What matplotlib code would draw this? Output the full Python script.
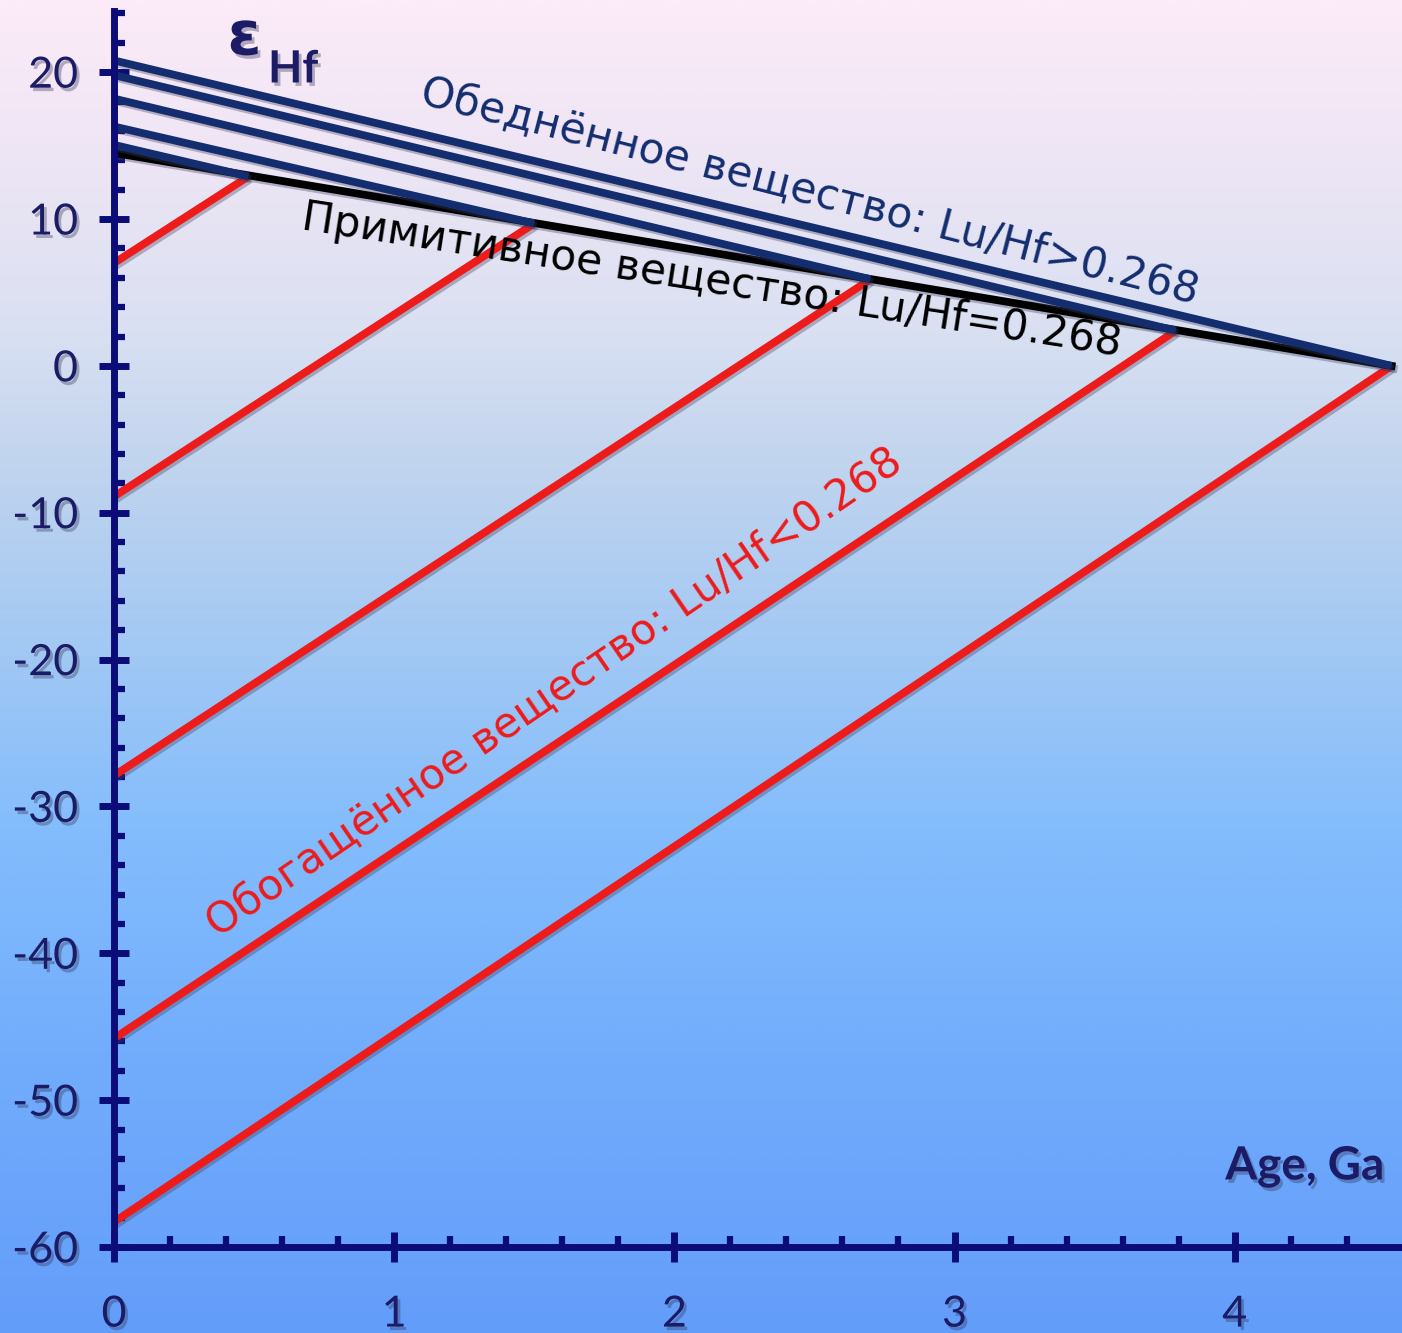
import numpy as np
import matplotlib
matplotlib.use("Agg")
import matplotlib.pyplot as plt
import matplotlib.patheffects as pe
from matplotlib.colors import LinearSegmentedColormap
from matplotlib.ticker import MultipleLocator

# Hf isotope evolution (epsilon Hf vs age)
chur_age = [0.0, 4.56]
chur_eps = [14.5, 0.0]

# points where material separates from the primitive reservoir
sep_age = [0.48, 1.50, 2.70, 3.79, 4.56]
sep_eps = [12.9, 9.7, 5.9, 2.4, 0.0]

# present-day values (age 0)
enriched_now = [7.0, -8.9, -27.9, -45.8, -58.3]
depleted_now = [15.05, 16.3, 18.2, 19.8, 20.8]

x_ticks = [0, 1, 2, 3, 4]
y_ticks = [-60, -50, -40, -30, -20, -10, 0, 10, 20]

navy = "#0c0c78"
blue = "#132d6e"
red = "#ee1b1b"
label_col = "#1b1b66"

fig = plt.figure(figsize=(14.02, 13.33), dpi=100)

# background gradient
bg = fig.add_axes([0, 0, 1, 1])
stops = [(0.0, "#fcebf8"), (0.1, "#f0e6f5"), (0.25, "#d9e0f2"), (0.35, "#c0d4ee"),
         (0.5, "#9fc7f5"), (0.62, "#84bdfc"), (0.8, "#71acfc"), (1.0, "#639dfa")]
cmap = LinearSegmentedColormap.from_list("bg", stops)
grad = np.linspace(0, 1, 512).reshape(-1, 1)
bg.imshow(grad, aspect="auto", cmap=cmap, extent=[0, 1, 0, 1], origin="upper")
bg.axis("off")

ax = fig.add_axes([114 / 1402, 86 / 1333, 1286 / 1402, 1236.5 / 1333])
ax.patch.set_alpha(0)

line_fx = [pe.SimpleLineShadow(offset=(1.5, -2), alpha=0.35, shadow_color="#404060"), pe.Normal()]
for a, e, now in zip(sep_age, sep_eps, enriched_now):
    ax.plot([0, a], [now, e], color=red, lw=5.6, solid_capstyle="butt",
            path_effects=line_fx, zorder=3)
ax.plot(chur_age, chur_eps, color="black", lw=5.6, path_effects=line_fx, zorder=4)
for a, e, now in zip(sep_age, sep_eps, depleted_now):
    ax.plot([0, a], [now, e], color=blue, lw=5.6, solid_capstyle="butt",
            path_effects=line_fx, zorder=5)

ax.set_xlim(0, 4.59)
ax.set_ylim(-60, 24.2)
for s in ["top", "right"]:
    ax.spines[s].set_visible(False)
for s in ["left", "bottom"]:
    ax.spines[s].set_color(navy)
    ax.spines[s].set_linewidth(5)
    ax.spines[s].set_zorder(6)

ax.xaxis.set_minor_locator(MultipleLocator(0.2))
ax.yaxis.set_minor_locator(MultipleLocator(2))
ax.set_xticks(x_ticks)
ax.set_yticks(y_ticks)
ax.set_xticklabels([str(v) for v in x_ticks])
ax.set_yticklabels([str(v) for v in y_ticks])
ax.tick_params(which="major", direction="inout", length=22, width=5, color=navy,
               labelsize=31, labelcolor=label_col, zorder=6)
ax.tick_params(which="minor", direction="in", length=8, width=4.5, color=navy)
ax.tick_params(axis="y", which="major", pad=15)
ax.tick_params(axis="x", which="major", pad=24)

txt_fx = [pe.withSimplePatchShadow(offset=(2, -2.5), alpha=0.35, shadow_rgbFace="#303050")]
for lab in ax.get_xticklabels() + ax.get_yticklabels():
    lab.set_family("Lato")
    lab.set_path_effects(txt_fx)

ax.text(1.085, 17.9, "Обеднённое вещество: Lu/Hf>0.268", color=blue, fontsize=30.5,
        rotation=-14.5, rotation_mode="anchor", ha="left", va="baseline", zorder=7)
ax.text(0.665, 9.3, "Примитивное вещество: Lu/Hf=0.268", color="black", fontsize=30.5,
        rotation=-8.8, rotation_mode="anchor", ha="left", va="baseline", zorder=7)
ax.text(0.37, -39.0, "Обогащённое вещество: Lu/Hf<0.268", color=red, fontsize=30.5,
        rotation=34.4, rotation_mode="anchor", ha="left", va="baseline", zorder=7)

ax.text(0.405, 21.2, "ε", color=label_col, fontsize=44, fontweight="bold", family="DejaVu Sans",
        ha="left", va="baseline", path_effects=txt_fx, zorder=7)
ax.text(0.55, 19.3, "Hf", color=label_col, fontsize=32, fontweight="bold", family="Lato",
        ha="left", va="baseline", path_effects=txt_fx, zorder=7)
ax.text(4.535, -55.4, "Age, Ga", color=label_col, fontsize=33, fontweight="bold", family="Lato",
        ha="right", va="baseline", path_effects=txt_fx, zorder=7)

fig.savefig("out.png", dpi=100)
